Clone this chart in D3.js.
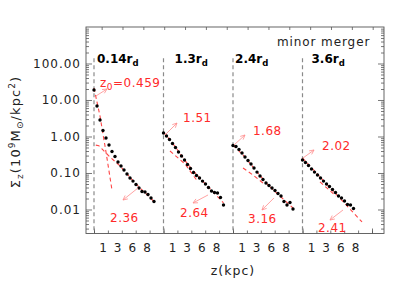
<!DOCTYPE html>
<html><head><meta charset="utf-8">
<script src="https://cdn.jsdelivr.net/npm/d3@7"></script>
<style>body{margin:0;background:#fff} text{font-family:"DejaVu Sans",sans-serif}</style>
</head><body>
<svg id="c" width="409" height="289"></svg>
<script>
// ---------------- data ----------------
const panelNames = ["0.14", "1.3", "2.4", "3.6"];
const zTickLabels = ["1", "3", "6", "8"];
const yTickValues = [0.01, 0.1, 1, 10, 100];
const yTickLabels = ["0.01", "0.10", "1.00", "10.00", "100.00"];

const zPanel1 = [0,0.5,1,1.5,2,2.5,3,3.5,4,4.5,5,5.5,6,6.5,7,7.5,8,8.5,9,9.5,10];
const sigmaPanel1 = [18.8,6.85,2.83,1.46,0.91,0.585,0.388,0.283,0.200,0.156,0.121,0.094,0.073,0.060,0.0484,0.0388,0.0311,0.0302,0.0258,0.0207,0.0166];
const zPanel2 = [0,0.5,1,1.5,2,2.5,3,3.5,4,4.5,5,5.5,6,6.5,7,7.5,8,8.5,9,9.5,10];
const sigmaPanel2 = [1.25,1.03,0.83,0.643,0.50,0.376,0.292,0.227,0.171,0.133,0.103,0.0855,0.073,0.060,0.050,0.040,0.0321,0.0292,0.0283,0.0213,0.0133];
const zPanel3 = [0,0.5,1,1.5,2,2.5,3,3.5,4,4.5,5,5.5,6,6.5,7,7.5,8,8.5,9,9.5,10];
const sigmaPanel3 = [0.567,0.532,0.441,0.353,0.274,0.22,0.177,0.137,0.106,0.0828,0.0664,0.0532,0.0455,0.0388,0.0332,0.0274,0.0234,0.0166,0.0133,0.0156,0.0103];
const zPanel4 = [0,0.5,1,1.5,2,2.5,3,3.5,4,4.5,5,5.5,6,6.5,7,7.5,8,8.5];
const sigmaPanel4 = [0.227,0.194,0.160,0.129,0.106,0.088,0.073,0.060,0.050,0.0427,0.0353,0.0292,0.0234,0.0207,0.0171,0.0137,0.0133,0.0106];

// fitted profiles as (z, sigma) vertices
const fitA1 = [[0,21.3],[1,3.64],[2,0.376],[3,0.034]];
const fitB1 = [[0.3,0.58],[0.8,0.56],[1.33,0.455],[2.67,0.274],[4.33,0.156],[6.83,0.053],[10,0.0166]];
const fitA2 = [[0,1.33],[2,0.515],[4,0.177],[6,0.073],[8,0.034],[10,0.0151]];
const fitB2 = [[1.08,0.40],[3.58,0.177],[5.75,0.057]];
const fitA3 = [[0,0.585],[2,0.274],[4,0.106],[6,0.044],[8,0.022],[10,0.011]];
const fitB3 = [[1.67,0.137],[3.33,0.088],[5,0.053]];
const fitA4 = [[0,0.257],[9.92,0.00455]];
const fitB4 = [[2.92,0.057],[5.58,0.0234]];

// scale-height annotations
const upValues = ["0.459", "1.51", "1.68", "2.02"];
const upTextZ = [1.0, 3.25, 3.33, 3.25];
const upTextSigma = [22.7, 2.5, 1.1, 0.427];
const upArrows = [[[0.33,12.9],[2.17,20.0]], [[0.25,1.10],[2.25,2.34]], [[0.17,0.585],[2.0,1.10]], [[0.08,0.257],[1.92,0.427]]];
const downValues = ["2.36", "2.64", "3.16", "2.41"];
const downTextZ = [2.67, 2.75, 2.5, 2.58];
const downTextSigma = [0.00455, 0.00623, 0.00427, 0.00242];
const downArrows = [[[7.33,0.0388],[4.83,0.0182]], [[7.42,0.025],[4.92,0.0151]], [[6.83,0.0207],[4.83,0.0097]], [[6.75,0.0097],[4.58,0.00515]]];

// ---------------- layout ----------------
const L = 86, R = 384, T = 27, B = 233.5;
const firstDash = 94, panelW = 69.5, pxPerKpc = 6;
const dashTopSigma = 140;
const panelLabelZ = [0.5, 1.85, 0.35, 1.5];
const axisColor = "#555", red = "#ff2a2a", fitRed = "#ff4646", arrowRed = "#ff8c8c";

const panels = [
  {z: zPanel1, s: sigmaPanel1, fits: [fitA1, fitB1]},
  {z: zPanel2, s: sigmaPanel2, fits: [fitA2, fitB2]},
  {z: zPanel3, s: sigmaPanel3, fits: [fitA3, fitB3]},
  {z: zPanel4, s: sigmaPanel4, fits: [fitA4, fitB4]}
];

const y = d3.scaleLog().domain([0.0022, 1000]).range([B, T]);
const gx = d3.scaleLinear().domain([0, 1]).range([firstDash, firstDash + panelW]);
const px = panels.map((p, i) => d3.scaleLinear().domain([0, panelW / pxPerKpc]).range([gx(i), gx(i + 1)]));

const svg = d3.select("#c");

// axes ticks
const decades = [0.001, 0.01, 0.1, 1, 10, 100];
const minorY = [];
decades.forEach(d => { for (let k = 2; k <= 9; k++) { const v = d * k; if (v > 0.0022 && v < 1000) minorY.push(v); } });
const majorY = [0.01, 0.1, 1, 10, 100];

function tickAxis(axisGen, vals, size, tr) {
  const a = svg.append("g").attr("transform", tr)
    .call(axisGen.tickValues(vals).tickSize(size).tickFormat(""));
  a.select(".domain").remove();
  a.selectAll("line").attr("stroke", axisColor).attr("stroke-width", 0.8);
}
tickAxis(d3.axisRight(y), majorY, 6, `translate(${L},0)`);
tickAxis(d3.axisRight(y), minorY, 3, `translate(${L},0)`);
tickAxis(d3.axisLeft(y), majorY, 6, `translate(${R},0)`);
tickAxis(d3.axisLeft(y), minorY, 3, `translate(${R},0)`);

const gxFull = d3.scaleLinear().domain([gx.invert(L), gx.invert(R)]).range([L, R]);
const bottomMinor = d3.range(0, 4.01, 0.2).filter(v => gxFull(v) > L && gxFull(v) < R);
const bottomMajor = [0, 1, 2, 3, 4];
const topTicks = d3.range(0.11, 4.1, 0.3).filter(v => gxFull(v) > L && gxFull(v) < R);
tickAxis(d3.axisTop(gxFull), bottomMinor, 3, `translate(0,${B})`);
tickAxis(d3.axisTop(gxFull), bottomMajor, 5, `translate(0,${B})`);
tickAxis(d3.axisBottom(gxFull), topTicks, 3, `translate(0,${T})`);

// frame
svg.append("rect").attr("x", L).attr("y", T).attr("width", R - L).attr("height", B - T)
  .attr("fill", "none").attr("stroke", axisColor).attr("stroke-width", 0.9);

// y tick labels
svg.append("g").selectAll("text").data(yTickValues).join("text")
  .attr("x", L - 5).attr("y", d => y(d)).attr("dy", "0.36em")
  .attr("text-anchor", "end").attr("font-size", 12).attr("letter-spacing", 1)
  .attr("fill", "#222").text((d, i) => yTickLabels[i]);

// y label
const yl = svg.append("text").attr("transform", "translate(20,132) rotate(-90)")
  .attr("text-anchor", "middle").attr("font-size", 13).attr("letter-spacing", 1.1).attr("fill", "#222");
yl.append("tspan").text("Σ");
yl.append("tspan").attr("font-size", 9).attr("dy", 3).text("z");
yl.append("tspan").attr("dy", -3).text("(10");
yl.append("tspan").attr("font-size", 9).attr("dy", -5.5).text("9");
yl.append("tspan").attr("dy", 5.5).text("M");
yl.append("tspan").attr("font-size", 9).attr("dy", 3).text("⊙");
yl.append("tspan").attr("dy", -3).text("/kpc");
yl.append("tspan").attr("font-size", 9).attr("dy", -5.5).text("2");
yl.append("tspan").attr("dy", 5.5).text(")");

// x tick labels and x title
panels.forEach((p, i) => {
  const lp = d3.scalePoint().domain(zTickLabels).range([gx(i) + 9, gx(i) + 53]);
  svg.append("g").selectAll("text").data(zTickLabels).join("text")
    .attr("x", d => lp(d)).attr("y", 252).attr("text-anchor", "middle")
    .attr("font-size", 12).attr("fill", "#222").text(d => d);
});
svg.append("text").attr("x", 233).attr("y", 275).attr("text-anchor", "middle")
  .attr("font-size", 12.5).attr("letter-spacing", 1).attr("fill", "#222").text("z(kpc)");

// minor merger
svg.append("text").attr("x", 277).attr("y", 46).attr("font-size", 12)
  .attr("letter-spacing", 0.9).attr("fill", "#222").text("minor merger");

const line = xs => d3.line().x(d => xs(d[0])).y(d => y(d[1]));

function arrow(xs, a, color) {
  const x1 = xs(a[0][0]), y1 = y(a[0][1]), x2 = xs(a[1][0]), y2 = y(a[1][1]);
  const ang = Math.atan2(y2 - y1, x2 - x1), hl = 5, spread = 0.45;
  const gA = svg.append("g").attr("stroke", color).attr("stroke-width", 0.8).attr("fill", "none");
  gA.append("line").attr("x1", x1).attr("y1", y1).attr("x2", x2).attr("y2", y2);
  gA.append("path").attr("d",
    `M${x2 - hl * Math.cos(ang - spread)},${y2 - hl * Math.sin(ang - spread)}L${x2},${y2}L${x2 - hl * Math.cos(ang + spread)},${y2 - hl * Math.sin(ang + spread)}`);
}

panels.forEach((p, i) => {
  const xs = px[i];
  // panel separator
  svg.append("line").attr("x1", xs(0)).attr("x2", xs(0)).attr("y1", y(dashTopSigma)).attr("y2", B)
    .attr("stroke", "#8a8a8a").attr("stroke-width", 1.2).attr("stroke-dasharray", "4,3");
  // fits
  p.fits.forEach(f => svg.append("path").attr("d", line(xs)(f)).attr("fill", "none")
    .attr("stroke", fitRed).attr("stroke-width", 1.1).attr("stroke-dasharray", "4,3"));
  // points
  svg.append("g").selectAll("circle").data(p.z).join("circle")
    .attr("cx", d => xs(d)).attr("cy", (d, k) => y(p.s[k])).attr("r", 1.7).attr("fill", "#000");
  // panel label
  const t = svg.append("text").attr("x", xs(panelLabelZ[i])).attr("y", 63)
    .attr("font-size", 12).attr("font-weight", "bold").attr("fill", "#000");
  t.append("tspan").text(panelNames[i] + "r");
  t.append("tspan").attr("font-size", 8.5).attr("dy", 3).text("d");
  // annotations
  arrow(xs, upArrows[i], arrowRed);
  arrow(xs, downArrows[i], arrowRed);
  const ut = svg.append("text").attr("x", xs(upTextZ[i])).attr("y", y(upTextSigma[i]))
    .attr("font-size", 12).attr("letter-spacing", 0.5).attr("fill", red);
  if (i === 0) {
    ut.append("tspan").text("z");
    ut.append("tspan").attr("font-size", 9).attr("dy", 3).text("0");
    ut.append("tspan").attr("dy", -3).text("=" + upValues[i]);
  } else ut.text(upValues[i]);
  svg.append("text").attr("x", xs(downTextZ[i])).attr("y", y(downTextSigma[i]))
    .attr("font-size", 12).attr("letter-spacing", 0.5).attr("fill", red).text(downValues[i]);
});
</script>
</body></html>
